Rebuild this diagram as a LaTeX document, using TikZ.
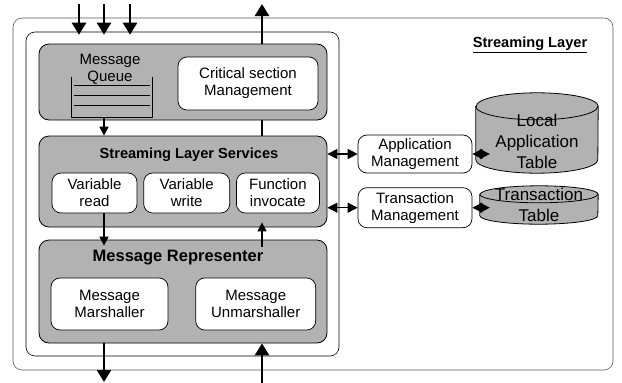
\documentclass[tikz,border=0pt]{standalone}
\usepackage{fontspec}
\setmainfont{Liberation Sans}
\usetikzlibrary{arrows.meta,positioning}

% database drum over an empty node: name, x radius, y radius
\newcommand{\drawdb}[3]{%
  \path[draw,fill=black!30,line width=0.8pt]
    ([yshift=-#3]#1.north west) -- ([yshift=#3]#1.south west)
    arc[start angle=180,end angle=360,x radius=#2,y radius=#3]
    -- ([yshift=-#3]#1.north east)
    arc[start angle=0,end angle=180,x radius=#2,y radius=#3] -- cycle;
  \draw[line width=0.8pt] ([yshift=-#3]#1.north west)
    arc[start angle=180,end angle=360,x radius=#2,y radius=#3];}

\begin{document}
\begin{tikzpicture}[x=1pt,y=-1pt,node distance=6pt,
  font=\fontsize{15}{17}\selectfont,
  layer/.style={draw,rounded corners=9pt,line width=0.6pt,inner sep=0pt},
  panel/.style={draw,fill=black!30,rounded corners=10pt,line width=0.8pt,inner sep=0pt},
  unit/.style={draw,fill=white,rounded corners=9pt,align=center,inner sep=0pt,line width=0.7pt},
  heading/.style={font=\fontsize{14.6}{17}\selectfont\bfseries},
  db/.style={inner sep=0pt},
  dbtext/.style={align=center,font=\fontsize{17}{21}\selectfont},
  flow/.style={line width=2.6pt,-{Triangle[width=14pt,length=12pt]}},
  link/.style={line width=1.2pt,-{Triangle[width=9pt,length=9pt]}},
  both/.style={line width=1.2pt,{Triangle[width=10pt,length=10pt]}-{Triangle[width=10pt,length=10pt]}}]
  \useasboundingbox (0,0) rectangle (622,383);

  % frames
  \node[layer,draw=black!65,minimum width=600pt,minimum height=352pt](layer) at (313,194){};
  \node[layer,minimum width=313pt,minimum height=324pt](core) at (182.5,194){};
  \node[heading](title) at (530,45){\underline{Streaming Layer}};

  % message queue
  \node[panel,minimum width=288pt,minimum height=76pt](queuepanel) at (183,82){};
  \node[minimum width=80pt,minimum height=40pt,inner sep=0pt](queue) at (112,97){};
  \draw[line width=1pt] (queue.north west) |- (queue.south east) -- (queue.north east);
  \foreach \y in {85,95,105}
    \draw[line width=1pt] (74,\y) -- (150,\y);
  \node[align=center](queuelabel) at (110,69){Message\\Queue};
  \node[unit,minimum width=140pt,minimum height=53pt](critical) at (248,83.5){Critical section\\Management};

  % services
  \node[panel,minimum width=288pt,minimum height=91pt](services) at (183,181.5){};
  \node[heading](serviceslabel) at (189,155){Streaming Layer Services};
  \node[unit,minimum width=85pt,minimum height=40pt](varread) at (94.5,193){Variable\\read};
  \node[unit,minimum width=86pt,minimum height=40pt](varwrite)[right=of varread]{Variable\\write};
  \node[unit,minimum width=83pt,minimum height=40pt](funcinv)[right=of varwrite]{Function\\invocate};

  % representer
  \node[panel,minimum width=288pt,minimum height=103pt](representer) at (183,291.5){};
  \node[heading,font=\fontsize{16.5}{19}\selectfont\bfseries](representerlabel) at (178,258){Message Representer};
  \node[unit,minimum width=117pt,minimum height=52pt](marshaller) at (109.5,304){Message\\Marshaller};
  \node[unit,minimum width=120pt,minimum height=52pt](unmarshaller)[right=27pt of marshaller]{Message\\Unmarshaller};

  % management and tables
  \node[unit,minimum width=114pt,minimum height=38pt](appmgmt) at (415,154){Application\\Management};
  \node[unit,minimum width=114pt,minimum height=40pt](transmgmt)[below=14pt of appmgmt]{Transaction\\Management};
  \node[db,minimum width=122pt,minimum height=80pt](apptable) at (537,133){};
  \drawdb{apptable}{61pt}{13.5pt}
  \node[dbtext](apptablelabel) at ([yshift=-8pt]apptable.center){Local\\Application\\Table};
  \node[db,minimum width=118pt,minimum height=38pt](transtable) at (539,205){};
  \drawdb{transtable}{59pt}{8.5pt}
  \node[dbtext](transtablelabel) at (transtable.center){Transaction\\Table};

  % connectors
  \coordinate (in1) at (79,4);
  \coordinate (in2) at (104,4);
  \coordinate (in3) at (130,4);
  \coordinate (out1) at (262,4);
  \coordinate (out2) at (104,382);
  \coordinate (in4) at (262,383);
  \foreach \c in {in1,in2,in3}
    \draw[flow] (\c) -- ([yshift=-3pt]\c |- core.north);
  \draw[flow] (out1 |- queuepanel.north) -- (out1);
  \draw[line width=2.6pt] (out1 |- queuepanel.south) -- (out1 |- services.north);
  \draw[link] (in2 |- queue.south) -- (in2 |- services.north);
  \draw[link] (in2 |- varread.south) -- ([yshift=-6pt]in2 |- representer.north);
  \draw[link] ([yshift=-7pt]out1 |- representer.north) -- ([yshift=5pt]out1 |- services.south);
  \draw[flow] (out2 |- representer.south) -- (out2);
  \draw[flow] (in4) -- (in4 |- representer.south);
  \draw[both] (appmgmt.west -| services.east) -- (appmgmt.west);
  \draw[both] (transmgmt.west -| services.east) -- (transmgmt.west);
  \draw[both] (appmgmt.east) -- ([xshift=14pt]appmgmt.east -| apptable.west);
  \draw[both] (transmgmt.east) -- ([xshift=10pt]transmgmt.east -| transtable.west);
\end{tikzpicture}
\end{document}
